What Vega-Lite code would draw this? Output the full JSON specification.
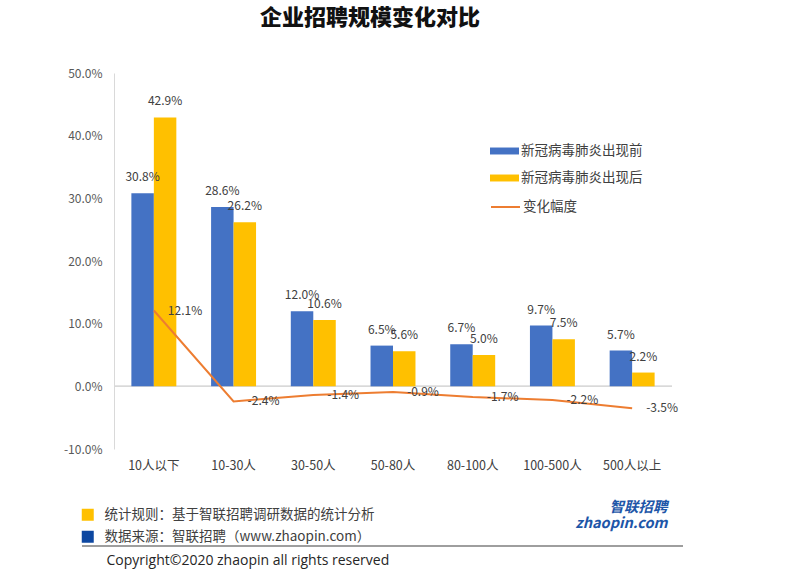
{
  "$schema": "https://vega.github.io/schema/vega-lite/v6.json",
  "autosize": "none",
  "width": 558,
  "height": 376,
  "padding": {"left": 114, "top": 73, "right": 115, "bottom": 127},
  "background": "white",
  "config": {
    "view": {"stroke": null},
    "font": "Noto Sans CJK SC",
    "locale": {"number": {"decimal": ".", "thousands": ",", "grouping": [3], "currency": ["", ""], "minus": "-", "percent": "%"}}
  },
  "title": {"text": "企业招聘规模变化对比", "fontSize": 22, "fontWeight": 900, "color": "#111111", "anchor": "middle", "dx": -23, "offset": 37, "font": "Noto Sans CJK SC"},
  "datasets": {
    "bars": [
      {"cat": "10人以下", "series": "新冠病毒肺炎出现前", "value": 0.308},
      {"cat": "10人以下", "series": "新冠病毒肺炎出现后", "value": 0.429},
      {"cat": "10-30人", "series": "新冠病毒肺炎出现前", "value": 0.286},
      {"cat": "10-30人", "series": "新冠病毒肺炎出现后", "value": 0.262},
      {"cat": "30-50人", "series": "新冠病毒肺炎出现前", "value": 0.120},
      {"cat": "30-50人", "series": "新冠病毒肺炎出现后", "value": 0.106},
      {"cat": "50-80人", "series": "新冠病毒肺炎出现前", "value": 0.065},
      {"cat": "50-80人", "series": "新冠病毒肺炎出现后", "value": 0.056},
      {"cat": "80-100人", "series": "新冠病毒肺炎出现前", "value": 0.067},
      {"cat": "80-100人", "series": "新冠病毒肺炎出现后", "value": 0.050},
      {"cat": "100-500人", "series": "新冠病毒肺炎出现前", "value": 0.097},
      {"cat": "100-500人", "series": "新冠病毒肺炎出现后", "value": 0.075},
      {"cat": "500人以上", "series": "新冠病毒肺炎出现前", "value": 0.057},
      {"cat": "500人以上", "series": "新冠病毒肺炎出现后", "value": 0.022}
    ],
    "change": [
      {"cat": "10人以下", "value": 0.121},
      {"cat": "10-30人", "value": -0.024},
      {"cat": "30-50人", "value": -0.014},
      {"cat": "50-80人", "value": -0.009},
      {"cat": "80-100人", "value": -0.017},
      {"cat": "100-500人", "value": -0.022},
      {"cat": "500人以上", "value": -0.035}
    ],
    "notes": [
      {"note": "统计规则：基于智联招聘调研数据的统计分析"},
      {"note": "数据来源：智联招聘（www.zhaopin.com）"}
    ]
  },
  "encoding": {
    "x": {
      "field": "cat", "type": "nominal",
      "sort": ["10人以下", "10-30人", "30-50人", "50-80人", "80-100人", "100-500人", "500人以上"],
      "scale": {"paddingInner": 0.436, "paddingOuter": 0.218},
      "axis": {
        "labelAngle": 0, "labelFontSize": 12.5, "labelColor": "#404040", "labelPadding": 10,
        "domain": false, "ticks": false, "grid": false,
        "title": "Copyright©2020 zhaopin all rights reserved",
        "titleFont": "Open Sans", "titleFontSize": 14, "titleFontWeight": "normal", "titleColor": "#262626",
        "titleAlign": "left", "titleAnchor": "start", "titleBaseline": "middle", "titleX": -8, "titleY": 111
      }
    },
    "y": {
      "field": "value", "type": "quantitative",
      "scale": {"domain": [-0.1, 0.5], "nice": false, "zero": false},
      "axis": {
        "values": [-0.1, 0, 0.1, 0.2, 0.3, 0.4, 0.5], "format": ".1%",
        "labelFontSize": 12, "labelColor": "#595959", "labelPadding": 12,
        "domainColor": "#D9D9D9", "ticks": false, "grid": false,
        "title": ["智联招聘", "zhaopin.com"], "titleAngle": 0, "titleAlign": "right", "titleBaseline": "top",
        "titleX": 553, "titleY": 427, "titleFontSize": 14.5, "titleFontWeight": "bold", "titleFontStyle": "italic",
        "titleColor": "#1D56A8", "titleLineHeight": 16, "titleFont": "Noto Sans CJK SC"
      }
    }
  },
  "layer": [
    {
      "data": {"name": "change"},
      "mark": {"type": "rule", "color": "#D9D9D9", "strokeWidth": 1},
      "encoding": {
        "x": null,
        "y": {"datum": 0},
        "strokeDash": {
          "datum": "separator",
          "scale": {"range": [[1, 0]]},
          "legend": {
            "orient": "none", "legendX": -33, "legendY": 171.5, "padding": 0,
            "title": null, "labelExpr": "''", "symbolType": "stroke", "symbolSize": 361201,
            "symbolStrokeColor": "#7F7F7F", "symbolStrokeWidth": 1.5, "symbolDash": [1, 0]
          }
        }
      }
    },
    {
      "data": {"name": "bars"},
      "mark": {"type": "bar"},
      "encoding": {
        "xOffset": {"field": "series", "type": "nominal", "sort": ["新冠病毒肺炎出现前", "新冠病毒肺炎出现后"]},
        "color": {
          "field": "series", "type": "nominal",
          "scale": {"domain": ["新冠病毒肺炎出现前", "新冠病毒肺炎出现后"], "range": ["#4472C4", "#FFC000"]},
          "legend": {
            "orient": "none", "legendX": 376, "legendY": 63.5, "padding": 0, "title": null,
            "symbolType": "M-1,-0.24H1V0.24H-1Z", "symbolSize": 841, "symbolStrokeWidth": 0,
            "labelFontSize": 13.5, "labelColor": "#404040", "labelOffset": 2, "rowPadding": 6
          }
        }
      }
    },
    {
      "data": {"name": "bars"},
      "mark": {"type": "text", "baseline": "middle", "dy": -16, "fontSize": 12, "color": "#404040"},
      "encoding": {
        "xOffset": {"field": "series", "type": "nominal", "sort": ["新冠病毒肺炎出现前", "新冠病毒肺炎出现后"]},
        "text": {"field": "value", "type": "quantitative", "format": ".1%"}
      }
    },
    {
      "data": {"name": "change"},
      "mark": {"type": "line", "strokeWidth": 2},
      "encoding": {
        "stroke": {
          "datum": "变化幅度",
          "scale": {"range": ["#ED7D31"]},
          "legend": {
            "orient": "none", "legendX": 376, "legendY": 118.5, "padding": 0, "title": null,
            "symbolType": "stroke", "symbolSize": 841, "symbolStrokeWidth": 2,
            "labelFontSize": 13.5, "labelColor": "#404040", "labelOffset": 2
          }
        }
      }
    },
    {
      "data": {"name": "change"},
      "mark": {"type": "text", "align": "left", "baseline": "middle", "dx": 14, "fontSize": 12, "color": "#404040"},
      "encoding": {
        "text": {"field": "value", "type": "quantitative", "format": ".1%"}
      }
    },
    {
      "data": {"name": "notes"},
      "mark": {"type": "point", "opacity": 0, "filled": true},
      "encoding": {
        "x": null,
        "y": null,
        "fill": {
          "field": "note", "type": "nominal",
          "scale": {"domain": ["统计规则：基于智联招聘调研数据的统计分析", "数据来源：智联招聘（www.zhaopin.com）"], "range": ["#FFC000", "#0D47A1"]},
          "legend": {
            "orient": "none", "legendX": -33, "legendY": 435, "padding": 0, "title": null,
            "symbolType": "square", "symbolSize": 144, "symbolOpacity": 1, "symbolStrokeWidth": 0,
            "labelFontSize": 13.5, "labelColor": "#404040", "labelOffset": 10, "rowPadding": 7, "labelLimit": 400
          }
        }
      }
    }
  ]
}
